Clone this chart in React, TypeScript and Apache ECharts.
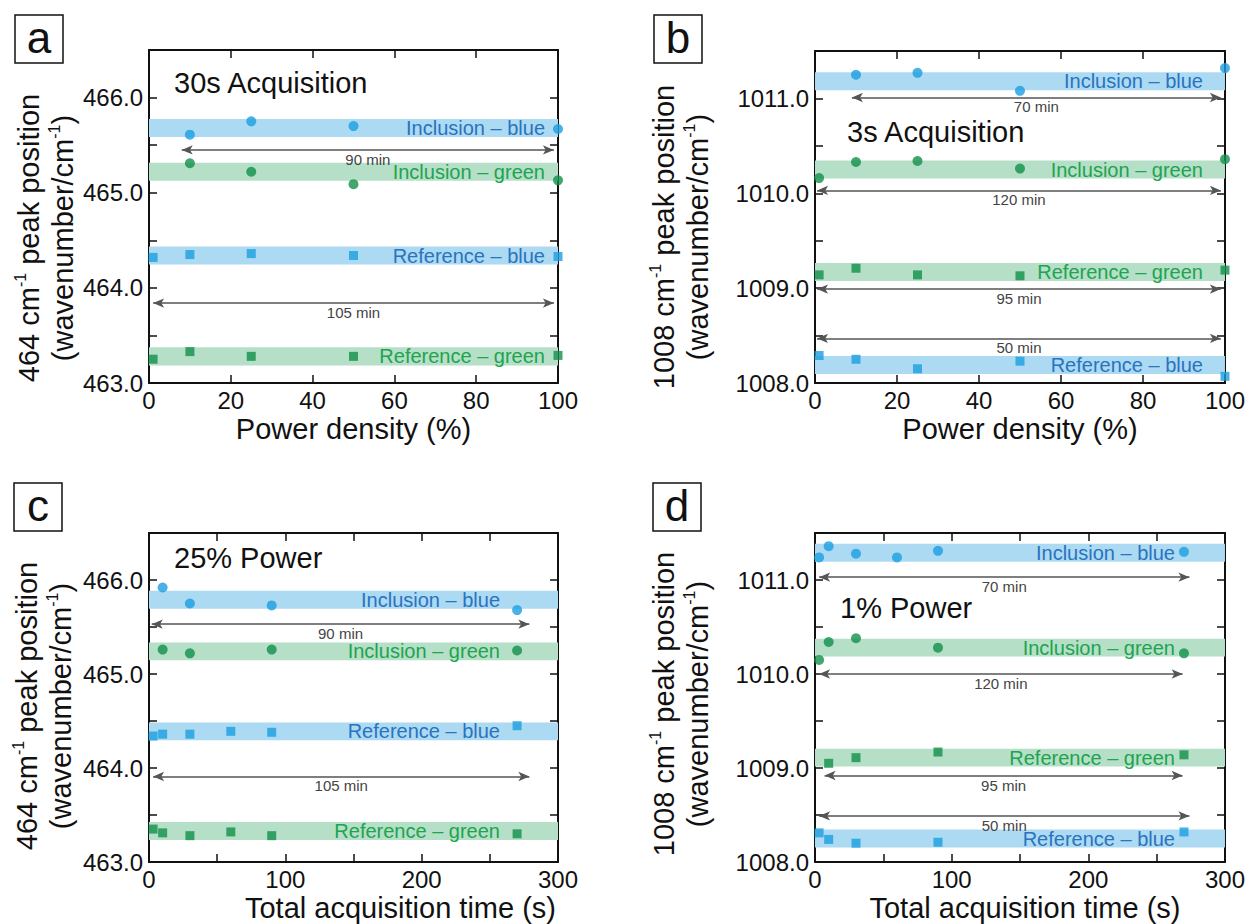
import { useEffect, useRef } from 'react';
import * as echarts from 'echarts';

// ---------------- Data ----------------
// Panel a: 30 s acquisition, x = power density (%)
const powerInclA = [10, 25, 50, 100];
const inclBlueA = [465.61, 465.75, 465.70, 465.67];
const inclGreenA = [465.31, 465.22, 465.09, 465.13];
const powerRefA = [1, 10, 25, 50, 100];
const refBlueA = [464.32, 464.35, 464.36, 464.34, 464.33];
const refGreenA = [463.25, 463.33, 463.28, 463.28, 463.29];
const bandsA = [465.68, 465.22, 464.34, 463.28]; // inclBlue, inclGreen, refBlue, refGreen
const arrowLabelsA = ['90 min', '105 min'];
const arrowLevelsA = [465.45, 463.84];
const arrowFromA = [8, 1];
const arrowToA = [99, 99];

// Panel b: 3 s acquisition, x = power density (%)
const powerInclBlueB = [10, 25, 50, 100];
const inclBlueB = [1011.25, 1011.27, 1011.08, 1011.32];
const powerB = [1, 10, 25, 50, 100];
const inclGreenB = [1010.16, 1010.33, 1010.34, 1010.26, 1010.36];
const refGreenB = [1009.14, 1009.21, 1009.14, 1009.13, 1009.19];
const refBlueB = [1008.29, 1008.25, 1008.15, 1008.23, 1008.07];
const bandsB = [1011.18, 1010.25, 1009.17, 1008.19]; // inclBlue, inclGreen, refGreen, refBlue
const arrowLabelsB = ['70 min', '120 min', '95 min', '50 min'];
const arrowLevelsB = [1011.01, 1010.03, 1008.99, 1008.47];
const arrowFromB = [9, 0.5, 0.5, 0.5];
const arrowToB = [99, 99, 99, 99];

// Panel c: 25 % power, x = total acquisition time (s)
const timeInclC = [10, 30, 90, 270];
const inclBlueC = [465.92, 465.75, 465.73, 465.68];
const inclGreenC = [465.26, 465.22, 465.26, 465.25];
const timeRefC = [3, 10, 30, 60, 90, 270];
const refBlueC = [464.34, 464.36, 464.36, 464.39, 464.38, 464.45];
const refGreenC = [463.35, 463.31, 463.28, 463.32, 463.28, 463.30];
const bandsC = [465.79, 465.24, 464.39, 463.33]; // inclBlue, inclGreen, refBlue, refGreen
const arrowLabelsC = ['90 min', '105 min'];
const arrowLevelsC = [465.53, 463.91];
const arrowFromC = [2, 3];
const arrowToC = [279, 279];

// Panel d: 1 % power, x = total acquisition time (s)
const timeInclBlueD = [3, 10, 30, 60, 90, 270];
const inclBlueD = [1011.24, 1011.36, 1011.28, 1011.24, 1011.31, 1011.30];
const timeInclGreenD = [3, 10, 30, 90, 270];
const inclGreenD = [1010.15, 1010.34, 1010.38, 1010.28, 1010.22];
const timeRefGreenD = [10, 30, 90, 270];
const refGreenD = [1009.05, 1009.11, 1009.17, 1009.14];
const timeRefBlueD = [3, 10, 30, 90, 270];
const refBlueD = [1008.31, 1008.24, 1008.20, 1008.21, 1008.32];
const bandsD = [1011.29, 1010.28, 1009.11, 1008.25]; // inclBlue, inclGreen, refGreen, refBlue
const arrowLabelsD = ['70 min', '120 min', '95 min', '50 min'];
const arrowLevelsD = [1011.03, 1010.0, 1008.92, 1008.49];
const arrowFromD = [3, 3, 7, 3];
const arrowToD = [274, 269, 269, 274];

// ---------------- Styles ----------------
const FONT = '"Liberation Sans", Arial, Helvetica, sans-serif';
const INK = '#111111';
const BLUE_PT = '#1c9de0';
const GREEN_PT = '#13904a';
const BLUE_BAND = '#acdaf2';
const GREEN_BAND = '#b6dfc8';
const BLUE_TXT = '#2a73bf';
const GREEN_TXT = '#20a44f';
const ARROW = '#555555';
const BAND_HALF = 0.095;

type SeriesSpec = {
  name: string;
  xs: number[];
  ys: number[];
  band: number;
  blue: boolean;
  square: boolean;
};

type PanelSpec = {
  grid: { left: number; top: number; width: number; height: number };
  xMax: number;
  xInterval: number;
  xLabelStep: number;
  xName: string;
  xNamePad: number;
  yMin: number;
  yMax: number;
  labelDist: number;
  series: SeriesSpec[];
  arrowLabels: string[];
  arrowLevels: number[];
  arrowFrom: number[];
  arrowTo: number[];
};

const panels: PanelSpec[] = [
  {
    grid: { left: 149, top: 50, width: 409, height: 333 },
    xMax: 100, xInterval: 20, xLabelStep: 20, xName: 'Power density (%)', xNamePad: 0,
    yMin: 463, yMax: 466.5, labelDist: 13,
    series: [
      { name: 'Inclusion – blue', xs: powerInclA, ys: inclBlueA, band: bandsA[0], blue: true, square: false },
      { name: 'Inclusion – green', xs: powerInclA, ys: inclGreenA, band: bandsA[1], blue: false, square: false },
      { name: 'Reference – blue', xs: powerRefA, ys: refBlueA, band: bandsA[2], blue: true, square: true },
      { name: 'Reference – green', xs: powerRefA, ys: refGreenA, band: bandsA[3], blue: false, square: true },
    ],
    arrowLabels: arrowLabelsA, arrowLevels: arrowLevelsA, arrowFrom: arrowFromA, arrowTo: arrowToA,
  },
  {
    grid: { left: 815, top: 51, width: 410, height: 332 },
    xMax: 100, xInterval: 20, xLabelStep: 20, xName: 'Power density (%)', xNamePad: 0,
    yMin: 1008, yMax: 1011.5, labelDist: 22,
    series: [
      { name: 'Inclusion – blue', xs: powerInclBlueB, ys: inclBlueB, band: bandsB[0], blue: true, square: false },
      { name: 'Inclusion – green', xs: powerB, ys: inclGreenB, band: bandsB[1], blue: false, square: false },
      { name: 'Reference – green', xs: powerB, ys: refGreenB, band: bandsB[2], blue: false, square: true },
      { name: 'Reference – blue', xs: powerB, ys: refBlueB, band: bandsB[3], blue: true, square: true },
    ],
    arrowLabels: arrowLabelsB, arrowLevels: arrowLevelsB, arrowFrom: arrowFromB, arrowTo: arrowToB,
  },
  {
    grid: { left: 149, top: 533, width: 409, height: 329 },
    xMax: 300, xInterval: 50, xLabelStep: 100, xName: 'Total acquisition time (s)', xNamePad: 94,
    yMin: 463, yMax: 466.5, labelDist: 58,
    series: [
      { name: 'Inclusion – blue', xs: timeInclC, ys: inclBlueC, band: bandsC[0], blue: true, square: false },
      { name: 'Inclusion – green', xs: timeInclC, ys: inclGreenC, band: bandsC[1], blue: false, square: false },
      { name: 'Reference – blue', xs: timeRefC, ys: refBlueC, band: bandsC[2], blue: true, square: true },
      { name: 'Reference – green', xs: timeRefC, ys: refGreenC, band: bandsC[3], blue: false, square: true },
    ],
    arrowLabels: arrowLabelsC, arrowLevels: arrowLevelsC, arrowFrom: arrowFromC, arrowTo: arrowToC,
  },
  {
    grid: { left: 815, top: 533, width: 410, height: 329 },
    xMax: 300, xInterval: 50, xLabelStep: 100, xName: 'Total acquisition time (s)', xNamePad: 10,
    yMin: 1008, yMax: 1011.5, labelDist: 50,
    series: [
      { name: 'Inclusion – blue', xs: timeInclBlueD, ys: inclBlueD, band: bandsD[0], blue: true, square: false },
      { name: 'Inclusion – green', xs: timeInclGreenD, ys: inclGreenD, band: bandsD[1], blue: false, square: false },
      { name: 'Reference – green', xs: timeRefGreenD, ys: refGreenD, band: bandsD[2], blue: false, square: true },
      { name: 'Reference – blue', xs: timeRefBlueD, ys: refBlueD, band: bandsD[3], blue: true, square: true },
    ],
    arrowLabels: arrowLabelsD, arrowLevels: arrowLevelsD, arrowFrom: arrowFromD, arrowTo: arrowToD,
  },
];

const panelLetters = ['a', 'b', 'c', 'd'];
const letterBoxes = [
  { x: 15, y: 15 },
  { x: 654, y: 15 },
  { x: 14, y: 483 },
  { x: 653, y: 483 },
];
const captions = ['30s Acquisition', '3s Acquisition', '25% Power', '1% Power'];
const captionPos = [
  { x: 174, y: 83 },
  { x: 847, y: 132 },
  { x: 174, y: 558 },
  { x: 840, y: 608 },
];
const yTitleNumbers = ['464', '1008', '464', '1008'];
const yTitlePos = [
  { x: 46, y: 238 },
  { x: 681, y: 237 },
  { x: 44, y: 706 },
  { x: 681, y: 704 },
];

function buildOption() {
  const grid: any[] = [];
  const xAxis: any[] = [];
  const yAxis: any[] = [];
  const series: any[] = [];
  const graphic: any[] = [];

  const axisLine = { show: true, onZero: false, lineStyle: { color: INK, width: 2 } };
  const axisTick = { show: true, inside: true, length: 8, lineStyle: { color: INK, width: 1.5 } };

  panels.forEach((p, i) => {
    grid.push({ ...p.grid, containLabel: false });
    const xFmt = (v: number) => (Math.abs(v / p.xLabelStep - Math.round(v / p.xLabelStep)) < 1e-6 ? String(v) : '');
    const yFmt = (v: number) => (Math.abs(v - Math.round(v)) < 1e-6 ? v.toFixed(1) : '');
    xAxis.push({
      gridIndex: i, type: 'value', min: 0, max: p.xMax, interval: p.xInterval, position: 'bottom',
      axisLine, axisTick, splitLine: { show: false },
      axisLabel: { show: true, fontSize: 24, color: INK, fontFamily: FONT, margin: 5, formatter: xFmt },
      name: p.xName, nameLocation: 'middle', nameGap: 31,
      nameTextStyle: { fontSize: 29, color: INK, fontFamily: FONT, padding: [0, 0, 0, p.xNamePad] },
    });
    xAxis.push({
      gridIndex: i, type: 'value', min: 0, max: p.xMax, interval: p.xInterval, position: 'top',
      axisLine, axisTick, splitLine: { show: false }, axisLabel: { show: false },
    });
    yAxis.push({
      gridIndex: i, type: 'value', min: p.yMin, max: p.yMax, interval: 0.5, position: 'left',
      axisLine, axisTick, splitLine: { show: false },
      axisLabel: { show: true, fontSize: 24, color: INK, fontFamily: FONT, margin: 6, formatter: yFmt },
    });
    yAxis.push({
      gridIndex: i, type: 'value', min: p.yMin, max: p.yMax, interval: 0.5, position: 'right',
      axisLine, axisTick, splitLine: { show: false }, axisLabel: { show: false },
    });

    p.series.forEach((s, k) => {
      const item: any = {
        type: 'scatter',
        name: s.name,
        xAxisIndex: 2 * i,
        yAxisIndex: 2 * i,
        data: s.xs.map((x, j) => [x, s.ys[j]]),
        symbol: s.square ? 'rect' : 'circle',
        symbolSize: s.square ? 9 : 10,
        itemStyle: { color: s.blue ? BLUE_PT : GREEN_PT },
        clip: false,
        z: 4,
        markArea: {
          silent: true,
          itemStyle: { color: s.blue ? BLUE_BAND : GREEN_BAND },
          label: {
            show: true,
            position: 'insideRight',
            distance: p.labelDist,
            color: s.blue ? BLUE_TXT : GREEN_TXT,
            fontSize: 20,
            fontFamily: FONT,
            formatter: s.name,
          },
          data: [[{ yAxis: s.band - BAND_HALF }, { yAxis: s.band + BAND_HALF }]],
        },
      };
      if (k === 0) {
        item.markLine = {
          silent: true,
          symbol: ['arrow', 'arrow'],
          symbolSize: [7, 11],
          lineStyle: { color: ARROW, width: 1.5, type: 'solid' },
          label: {
            show: true,
            position: 'insideMiddleBottom',
            distance: 2,
            fontSize: 15,
            color: '#444444',
            fontFamily: FONT,
            formatter: '{b}',
          },
          data: p.arrowLabels.map((lab, j) => [
            { coord: [p.arrowFrom[j], p.arrowLevels[j]], name: lab },
            { coord: [p.arrowTo[j], p.arrowLevels[j]] },
          ]),
        };
      }
      series.push(item);
    });

    // panel letter box
    const b = letterBoxes[i];
    graphic.push({
      type: 'rect',
      shape: { x: b.x, y: b.y, width: 48, height: 48 },
      style: { fill: 'none', stroke: INK, lineWidth: 1.5 },
    });
    graphic.push({
      type: 'text',
      x: b.x + 24,
      y: b.y + 22,
      style: { text: panelLetters[i], font: `44px ${FONT}`, fill: INK, align: 'center', verticalAlign: 'middle' },
    });
    // caption
    graphic.push({
      type: 'text',
      x: captionPos[i].x,
      y: captionPos[i].y,
      style: { text: captions[i], font: `29px ${FONT}`, fill: INK, align: 'left', verticalAlign: 'middle' },
    });
    // y-axis title
    graphic.push({
      type: 'text',
      x: yTitlePos[i].x,
      y: yTitlePos[i].y,
      rotation: Math.PI / 2,
      style: {
        text: `{t|${yTitleNumbers[i]} cm}{s|-1}{t| peak position}\n{t|(wavenumber/cm}{s|-1}{t|)}`,
        rich: {
          t: { fontSize: 29, fontFamily: FONT, fill: INK, lineHeight: 34 },
          s: { fontSize: 16, fontFamily: FONT, fill: INK, lineHeight: 34, verticalAlign: 'top' },
        },
        align: 'center',
        verticalAlign: 'middle',
      },
    });
  });

  return {
    animation: false,
    backgroundColor: '#ffffff',
    grid,
    xAxis,
    yAxis,
    series,
    graphic,
  };
}

export default function App() {
  const ref = useRef<HTMLDivElement>(null);
  useEffect(() => {
    document.body.style.margin = '0';
    if (!ref.current) return;
    const chart = echarts.init(ref.current, undefined, { renderer: 'svg' });
    chart.setOption(buildOption() as any);
    return () => {
      chart.dispose();
    };
  }, []);
  return <div ref={ref} style={{ width: 1248, height: 924 }} />;
}
